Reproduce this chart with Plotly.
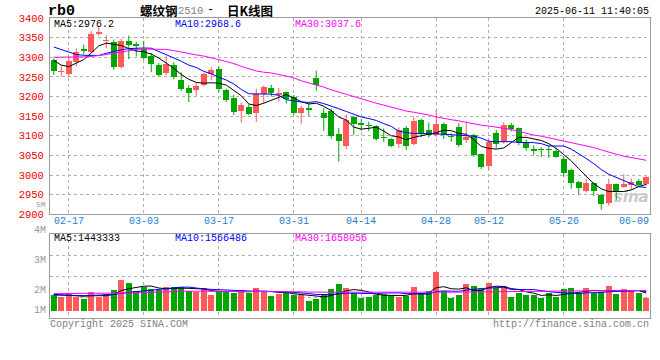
import plotly.graph_objects as go

# ---------------- data ----------------
dates = ["02-13", "02-14",
         "02-17", "02-18", "02-19", "02-20", "02-21",
         "02-24", "02-25", "02-26", "02-27", "02-28",
         "03-03", "03-04", "03-05", "03-06", "03-07",
         "03-10", "03-11", "03-12", "03-13", "03-14",
         "03-17", "03-18", "03-19", "03-20", "03-21",
         "03-24", "03-25", "03-26", "03-27", "03-28",
         "03-31", "04-01", "04-02", "04-03",
         "04-07", "04-08", "04-09", "04-10", "04-11",
         "04-14", "04-15", "04-16", "04-17", "04-18",
         "04-21", "04-22", "04-23", "04-24", "04-25",
         "04-28", "04-29", "04-30",
         "05-06", "05-07", "05-08", "05-09",
         "05-12", "05-13", "05-14", "05-15", "05-16",
         "05-19", "05-20", "05-21", "05-22", "05-23",
         "05-26", "05-27", "05-28", "05-29", "05-30",
         "06-03", "06-04", "06-05", "06-06",
         "06-09", "06-10", "06-11"]

opens = [3294, 3262, 3257, 3289, 3322, 3313, 3358, 3341, 3340, 3274,
         3342, 3334, 3321, 3302, 3281, 3260, 3281, 3242, 3222, 3217,
         3230, 3257, 3271, 3217, 3197, 3162, 3174, 3157, 3206, 3221,
         3204, 3212, 3199, 3158, 3170, 3246, 3157, 3162, 3105, 3075,
         3148, 3133, 3128, 3124, 3097, 3092, 3080, 3120, 3080, 3140,
         3114, 3103, 3130, 3100, 3122, 3089, 3103, 3053, 3022, 3106,
         3083, 3127, 3119, 3082, 3066, 3065, 3065, 3062, 3041, 3013,
         2983, 2959, 2980, 2949, 2928, 2977, 2970, 2974, 2985, 2976]
highs = [3297, 3278, 3300, 3323, 3332, 3366, 3378, 3356, 3345, 3347,
         3355, 3340, 3342, 3311, 3285, 3302, 3287, 3262, 3229, 3236,
         3260, 3275, 3277, 3220, 3205, 3185, 3180, 3220, 3228, 3230,
         3222, 3213, 3204, 3176, 3183, 3266, 3171, 3169, 3120, 3154,
         3151, 3143, 3136, 3127, 3119, 3094, 3121, 3125, 3149, 3144,
         3134, 3166, 3134, 3106, 3132, 3136, 3105, 3055, 3090, 3115,
         3135, 3133, 3121, 3090, 3076, 3071, 3076, 3070, 3046, 3016,
         2985, 2991, 2982, 2952, 2990, 2978, 3002, 2991, 2990, 2997]
lows = [3255, 3251, 3249, 3277, 3308, 3311, 3355, 3323, 3268, 3271,
        3295, 3302, 3294, 3262, 3251, 3255, 3244, 3214, 3186, 3202,
        3226, 3241, 3211, 3186, 3153, 3133, 3153, 3135, 3183, 3200,
        3187, 3182, 3153, 3131, 3151, 3215, 3113, 3093, 3034, 3066,
        3103, 3113, 3112, 3088, 3084, 3071, 3069, 3064, 3076, 3096,
        3096, 3097, 3092, 3085, 3071, 3082, 3046, 3015, 3013, 3068,
        3080, 3111, 3076, 3062, 3050, 3046, 3044, 3044, 2996, 2965,
        2950, 2956, 2947, 2912, 2922, 2936, 2968, 2962, 2971, 2973]
closes = [3266, 3264, 3291, 3313, 3317, 3360, 3365, 3343, 3274, 3342,
          3330, 3328, 3297, 3282, 3256, 3284, 3250, 3220, 3210, 3227,
          3257, 3268, 3218, 3191, 3160, 3179, 3155, 3206, 3223, 3208,
          3210, 3193, 3158, 3171, 3166, 3230, 3146, 3100, 3087, 3141,
          3129, 3127, 3126, 3092, 3095, 3074, 3114, 3074, 3138, 3106,
          3101, 3130, 3102, 3096, 3077, 3098, 3050, 3020, 3085, 3078,
          3127, 3117, 3081, 3070, 3060, 3064, 3064, 3047, 3004, 2981,
          2966, 2980, 2960, 2926, 2977, 2958, 2977, 2982, 2975, 2996]

ma5 = [3292, 3280, 3276, 3284, 3294, 3311, 3329, 3336, 3333, 3330,
       3322, 3316, 3314, 3308, 3298, 3286, 3272, 3256, 3244, 3236,
       3234, 3235, 3234, 3229, 3216, 3202, 3181, 3177, 3183, 3191,
       3199, 3205, 3196, 3187, 3181, 3183, 3175, 3164, 3148, 3140,
       3122, 3117, 3119, 3122, 3112, 3100, 3097, 3090, 3096, 3100,
       3104, 3108, 3114, 3113, 3106, 3104, 3090, 3073, 3068, 3066,
       3069, 3082, 3096, 3096, 3092, 3088, 3080, 3068, 3052, 3036,
       3016, 2996, 2978, 2965, 2958, 2958, 2958, 2962, 2971, 2976.2]
ma10 = [3326, 3320, 3314, 3307, 3305, 3304.6, 3304.6, 3310, 3315, 3319,
        3322, 3323.6, 3323.6, 3323, 3315, 3305, 3298, 3290, 3280, 3274,
        3264, 3258, 3249, 3242, 3232, 3218, 3207, 3207, 3207, 3206,
        3203, 3192, 3189, 3186, 3185, 3187, 3182, 3176, 3169, 3162,
        3155, 3148, 3144, 3139, 3131, 3124, 3112, 3108, 3106, 3106,
        3106, 3105, 3104, 3103, 3102, 3101, 3099, 3094, 3086, 3085,
        3085, 3085, 3083, 3082.6, 3082.6, 3080, 3074, 3074, 3074, 3066,
        3055, 3042, 3029, 3014, 3002, 2994, 2984, 2977, 2970, 2968.6]
ma30 = [3300, 3300, 3300, 3301, 3301, 3302, 3304, 3307, 3310, 3313,
        3317, 3320, 3321, 3321, 3321, 3320, 3317, 3313, 3309, 3306,
        3303, 3299, 3294, 3289, 3284, 3277, 3271, 3265, 3262, 3260,
        3256, 3252, 3248, 3240, 3235, 3229, 3224, 3217, 3211, 3205,
        3200, 3194, 3188, 3183, 3178, 3173, 3168, 3163, 3160, 3157,
        3153, 3148, 3144, 3141, 3138, 3134, 3130, 3127, 3125, 3122,
        3120, 3116, 3111, 3106, 3102, 3099, 3095, 3091, 3087, 3083,
        3079, 3075, 3070, 3064, 3058, 3053, 3048, 3044, 3041, 3037.6]

volumes = [1290000, 1150000, 1370000, 1150000, 960000, 1530000, 1150000, 1370000, 1700000, 2520000,
           2270000, 1640000, 1920000, 1750000, 1700000, 1940000, 1940000, 1940000, 1610000, 1560000,
           1860000, 1290000, 1590000, 1590000, 1430000, 1700000, 1430000, 1860000, 1640000, 1200000,
           1370000, 1430000, 1290000, 1290000, 820000, 930000, 1370000, 1780000, 2190000, 1860000,
           1430000, 1070000, 1150000, 1290000, 1370000, 1290000, 1150000, 1200000, 1940000, 1430000,
           1640000, 3200000, 1640000, 1070000, 1290000, 2190000, 2020000, 1750000, 2270000, 1840000,
           2020000, 1150000, 1430000, 1290000, 1290000, 1070000, 1430000, 1150000, 1780000, 1860000,
           1430000, 1860000, 1430000, 1560000, 2020000, 1370000, 1780000, 1640000, 1430000, 1070000]
vol_ma5 = [1340000, 1300000, 1230000, 1200000, 1180000, 1230000, 1230000, 1230000, 1340000, 1650000,
           1800000, 1900000, 2010000, 2020000, 1860000, 1790000, 1850000, 1850000, 1830000, 1800000,
           1780000, 1650000, 1580000, 1580000, 1550000, 1520000, 1550000, 1600000, 1610000, 1570000,
           1500000, 1500000, 1390000, 1320000, 1240000, 1150000, 1140000, 1240000, 1420000, 1630000,
           1730000, 1670000, 1540000, 1360000, 1260000, 1230000, 1250000, 1260000, 1390000, 1400000,
           1470000, 1880000, 1970000, 1800000, 1770000, 1880000, 1640000, 1660000, 1900000, 2010000,
           1980000, 1810000, 1740000, 1550000, 1440000, 1250000, 1300000, 1250000, 1340000, 1460000,
           1530000, 1620000, 1670000, 1630000, 1660000, 1650000, 1630000, 1670000, 1650000, 1443333]
vol_ma10 = [1280000, 1260000, 1250000, 1240000, 1240000, 1250000, 1260000, 1280000, 1330000, 1420000,
            1520000, 1570000, 1620000, 1680000, 1760000, 1800000, 1880000, 1930000, 1930000, 1830000,
            1790000, 1750000, 1720000, 1710000, 1680000, 1650000, 1600000, 1590000, 1600000, 1560000,
            1510000, 1530000, 1500000, 1470000, 1410000, 1330000, 1320000, 1320000, 1370000, 1440000,
            1440000, 1410000, 1390000, 1390000, 1450000, 1480000, 1460000, 1400000, 1380000, 1330000,
            1350000, 1570000, 1620000, 1600000, 1590000, 1680000, 1760000, 1820000, 1850000, 1890000,
            1930000, 1730000, 1700000, 1730000, 1730000, 1620000, 1560000, 1500000, 1450000, 1450000,
            1390000, 1460000, 1460000, 1490000, 1560000, 1590000, 1630000, 1670000, 1640000, 1566486]
vol_ma30 = [1400000, 1400000, 1400000, 1400000, 1400000, 1400000, 1400000, 1400000, 1400000, 1400000,
            1450000, 1470000, 1500000, 1520000, 1540000, 1560000, 1580000, 1590000, 1600000, 1600000,
            1610000, 1610000, 1610000, 1610000, 1610000, 1610000, 1610000, 1610000, 1600000, 1600000,
            1590000, 1580000, 1570000, 1550000, 1530000, 1510000, 1500000, 1500000, 1510000, 1520000,
            1520000, 1510000, 1500000, 1490000, 1490000, 1480000, 1470000, 1460000, 1460000, 1460000,
            1460000, 1500000, 1520000, 1520000, 1520000, 1530000, 1540000, 1550000, 1560000, 1570000,
            1580000, 1580000, 1580000, 1580000, 1590000, 1590000, 1590000, 1600000, 1610000, 1620000,
            1620000, 1630000, 1630000, 1640000, 1650000, 1650000, 1650000, 1660000, 1660000, 1658056]

date_ticks = ["02-17", "03-03", "03-17", "03-31", "04-14", "04-28", "05-12", "05-26", "06-09"]
price_ticks = [2900, 2950, 3000, 3050, 3100, 3150, 3200, 3250, 3300, 3350, 3400]
vol_tick_labels = ["5M", "4M", "3M", "2M", "1M"]
price_ma_labels = ["MA5:2976.2", "MA10:2968.6", "MA30:3037.6"]
vol_ma_labels = ["MA5:1443333", "MA10:1566486", "MA30:1658056"]
title_parts = ["螺纹钢", "2510", "-", "日K线图"]

# ---------------- geometry / style ----------------
W, H = 660, 360
ML, MR, MT, MB = 50, 10, 18, 42
PW, PH = W - ML - MR, H - MT - MB


def px(x):
    return (x - ML) / PW


def py(y):
    return 1 - (y - MT) / PH


PRICE_BOTTOM = 214.3
VOL_TOP = 234.3
VOL_ZERO_PX = 310.7
VOL_PX_PER_UNIT = 12.2 / 1e6


def vol_at(ypx):
    return (VOL_ZERO_PX - ypx) / VOL_PX_PER_UNIT


RED = "#ff5a5a"
GREEN = "#00a600"
GRID = "#b0b0b0"
BORDER = "#9a9a9a"
MONO = "Liberation Mono"
CJK = "Noto Sans CJK SC"
MA_COLORS = ["#000000", "#0000ff", "#ff00ff"]

n = len(dates)
idx = list(range(n))
up = [c >= o for o, c in zip(opens, closes)]
colors = [RED if u else GREEN for u in up]
body_base = [min(o, c) for o, c in zip(opens, closes)]
body_h = [max(abs(c - o), 2.0) for o, c in zip(opens, closes)]

fig = go.Figure()

# watermark (behind candles)
fig.add_trace(go.Scatter(x=[77.0], y=[2942], mode="text", text=["sina"],
                         textfont=dict(family="DejaVu Sans", size=15, color="#cacaca",
                                       weight="bold", style="italic"),
                         xaxis="x", yaxis="y", hoverinfo="skip", showlegend=False,
                         cliponaxis=False))

# wicks
for col, flag in ((RED, True), (GREEN, False)):
    xs, ys = [], []
    for i in idx:
        if up[i] == flag:
            xs += [i, i, None]
            ys += [lows[i], highs[i], None]
    fig.add_trace(go.Scatter(x=xs, y=ys, mode="lines", line=dict(color=col, width=1),
                             xaxis="x", yaxis="y", hoverinfo="skip", showlegend=False))

# bodies
fig.add_trace(go.Bar(x=idx, y=body_h, base=body_base, width=0.76,
                     marker=dict(color=colors, line=dict(width=0)),
                     xaxis="x", yaxis="y", showlegend=False))

# price MAs
for series, col in zip((ma5, ma10, ma30), MA_COLORS):
    fig.add_trace(go.Scatter(x=idx, y=series, mode="lines", line=dict(color=col, width=1),
                             xaxis="x", yaxis="y", hoverinfo="skip", showlegend=False))

# volume bars
fig.add_trace(go.Bar(x=idx, y=volumes, width=0.78,
                     marker=dict(color=colors, line=dict(width=0)),
                     xaxis="x2", yaxis="y2", showlegend=False))

# volume MAs
for series, col in zip((vol_ma5, vol_ma10, vol_ma30), MA_COLORS):
    fig.add_trace(go.Scatter(x=idx, y=series, mode="lines", line=dict(color=col, width=1),
                             xaxis="x2", yaxis="y2", hoverinfo="skip", showlegend=False))

grid_idx = [dates.index(d) for d in date_ticks[:-1]]
xr = [-0.5, n - 0.5]

axis_common = dict(showline=True, mirror=True, linecolor=BORDER, linewidth=1,
                   zeroline=False, showgrid=True, gridcolor=GRID, gridwidth=1,
                   griddash="dot", ticks="", fixedrange=True)

vol_grid_vals = [vol_at(y) for y in (255.3, 276.3, 297.3)]

fig.update_layout(
    width=W, height=H, autosize=False,
    margin=dict(l=ML, r=MR, t=MT, b=MB, pad=0),
    paper_bgcolor="white", plot_bgcolor="white",
    barmode="overlay", bargap=0,
    showlegend=False,
    xaxis=dict(domain=[0, 1], range=xr, anchor="y", tickvals=grid_idx,
               showticklabels=False, **axis_common),
    yaxis=dict(domain=[py(PRICE_BOTTOM), 1], range=[2900, 3400], anchor="x",
               tickvals=price_ticks, ticktext=[str(v) for v in price_ticks],
               tickfont=dict(family=MONO, size=10.5, color="#ee0000"),
               ticklabelstandoff=3, **axis_common),
    xaxis2=dict(domain=[0, 1], range=xr, anchor="y2", tickvals=grid_idx,
                showticklabels=False, **axis_common),
    yaxis2=dict(domain=[0, py(VOL_TOP)], range=[vol_at(H - MB), vol_at(VOL_TOP)],
                anchor="x2", tickvals=vol_grid_vals, showticklabels=False, **axis_common),
)

ann = []


def add_text(text, x, y, xanchor="left", size=10, color="#000000", family=MONO):
    ann.append(dict(text=text, x=px(x), y=py(y), xref="paper", yref="paper",
                    xanchor=xanchor, yanchor="middle", showarrow=False, borderpad=0,
                    font=dict(family=family, size=size, color=color)))


# header
add_text("<b>rb0</b>", 47, 12, size=15, family=MONO)
add_text("<b>" + title_parts[0] + "</b>", 139, 10, size=12.5, family=CJK)
add_text(title_parts[1], 177, 11, size=10.5, color="#7f7f7f", family=MONO)
add_text(title_parts[2], 210, 10, xanchor="center", size=12, family=MONO)
add_text("<b>" + title_parts[3] + "</b>", 226, 10, size=12.5, family=CJK)
add_text("2025-06-11 11:40:05", 650, 12, xanchor="right", size=10)

# MA labels
for lab, xx, col in zip(price_ma_labels, (53, 174, 294), MA_COLORS):
    add_text(lab, xx, 24, color=col, size=10)
for lab, xx, col in zip(vol_ma_labels, (53, 174, 294), MA_COLORS):
    add_text(lab, xx, 238.5, color=col, size=10)

# date labels
for d in date_ticks:
    xpix = ML + (dates.index(d) + 0.5) * PW / n
    if d == date_ticks[-1]:
        xpix = 634
    add_text(d, xpix, 221.7, xanchor="center", size=10, color="#1a7fd4")

# volume axis labels (5M squeezed between the 2950 and 2900 price labels, as in the original)
for lab, yy, sz in zip(vol_tick_labels, (204, 230.5, 260.7, 290.7, 310.5), (8, 10, 10, 10, 10)):
    add_text(lab, 47, yy, xanchor="right", size=sz, color="#9a9a9a")

# footer
add_text("Copyright 2025 SINA.COM", 49, 324.5, size=10, color="#808080")
add_text("http://finance.sina.com.cn", 650, 324.5, xanchor="right", size=10, color="#808080")

fig.update_layout(annotations=ann)
fig.write_html("out.html", config={"displayModeBar": False, "staticPlot": True},
               post_script="document.body.style.margin='0px';document.body.style.overflow='hidden';")
